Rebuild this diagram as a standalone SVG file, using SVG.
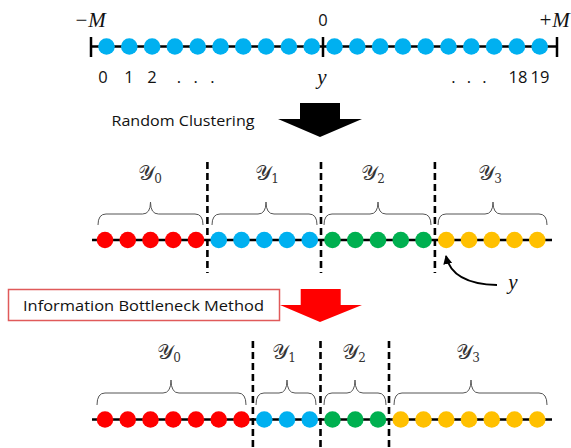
<svg xmlns="http://www.w3.org/2000/svg" width="571" height="448" viewBox="0 0 571 448">
<defs>
<style>
.axis{stroke:#000;stroke-width:2.5;fill:none}
.tick{stroke:#000;stroke-width:2.5}
.div{stroke:#000;stroke-width:2.6;stroke-dasharray:7 4;fill:none}
.brace{stroke:#555;stroke-width:1;fill:none}
.b{fill:#00b0f0}.r{fill:#ff0000}.g{fill:#00b050}.y{fill:#ffc000}
.num{font-family:"Open Sans","Liberation Sans",sans-serif;font-size:16.5px;fill:#111}
.mi{font-family:"Liberation Serif","DejaVu Serif",serif;font-style:italic;font-size:21px;fill:#111}
.cal{font-family:"DejaVu Serif","Noto Sans","Liberation Serif",serif;font-size:21px;fill:#333}
.sub{font-size:12px}
.cap{font-family:"Open Sans","Liberation Sans",sans-serif;font-size:15px;fill:#111}
</style>
<marker id="ah" viewBox="0 0 10 10" refX="9" refY="5" markerWidth="5" markerHeight="5" orient="auto">
<path d="M0,0 L10,5 L0,10 z" fill="#000"/>
</marker>
</defs>
<rect width="571" height="448" fill="#fff"/>

<g id="connectors">
<line class="axis" x1="91" y1="46.5" x2="557" y2="46.5"/>
<line class="tick" x1="91" y1="37" x2="91" y2="57"/>
<line class="tick" x1="323" y1="37" x2="323" y2="57"/>
<line class="tick" x1="557" y1="37" x2="557" y2="57"/>
<line class="axis" x1="92" y1="240" x2="552" y2="240"/>
<line class="axis" x1="92" y1="419.5" x2="552" y2="419.5"/>
<path d="M497,285 Q452,284 446,256" fill="none" stroke="#000" stroke-width="1.8" marker-end="url(#ah)"/>
</g>

<g id="row-top">
<circle class="b" cx="106.5" cy="46.5" r="8.3"/><circle class="b" cx="129.3" cy="46.5" r="8.3"/><circle class="b" cx="152.1" cy="46.5" r="8.3"/><circle class="b" cx="174.9" cy="46.5" r="8.3"/><circle class="b" cx="197.7" cy="46.5" r="8.3"/><circle class="b" cx="220.5" cy="46.5" r="8.3"/><circle class="b" cx="243.3" cy="46.5" r="8.3"/><circle class="b" cx="266.1" cy="46.5" r="8.3"/><circle class="b" cx="288.9" cy="46.5" r="8.3"/><circle class="b" cx="311.7" cy="46.5" r="8.3"/>
<circle class="b" cx="334.5" cy="46.5" r="8.3"/><circle class="b" cx="357.3" cy="46.5" r="8.3"/><circle class="b" cx="380.1" cy="46.5" r="8.3"/><circle class="b" cx="402.9" cy="46.5" r="8.3"/><circle class="b" cx="425.7" cy="46.5" r="8.3"/><circle class="b" cx="448.5" cy="46.5" r="8.3"/><circle class="b" cx="471.3" cy="46.5" r="8.3"/><circle class="b" cx="494.1" cy="46.5" r="8.3"/><circle class="b" cx="516.9" cy="46.5" r="8.3"/><circle class="b" cx="539.7" cy="46.5" r="8.3"/>
<text class="mi" x="90" y="27" text-anchor="middle">−M</text>
<text class="num" x="323" y="26" text-anchor="middle">0</text>
<text class="mi" x="554" y="27" text-anchor="middle">+M</text>
<text class="num" x="103" y="83" text-anchor="middle">0</text>
<text class="num" x="129" y="83" text-anchor="middle">1</text>
<text class="num" x="152" y="83" text-anchor="middle">2</text>
<text class="num" x="179" y="83" text-anchor="middle">.</text>
<text class="num" x="195.7" y="83" text-anchor="middle">.</text>
<text class="num" x="212.3" y="83" text-anchor="middle">.</text>
<text class="mi" x="322" y="84" text-anchor="middle">y</text>
<text class="num" x="453.3" y="83" text-anchor="middle">.</text>
<text class="num" x="469" y="83" text-anchor="middle">.</text>
<text class="num" x="484.3" y="83" text-anchor="middle">.</text>
<text class="num" x="518" y="83" text-anchor="middle">18</text>
<text class="num" x="540" y="83" text-anchor="middle">19</text>
</g>

<g id="arrow-random">
<text class="cap" x="111.5" y="126" textLength="143" lengthAdjust="spacingAndGlyphs">Random Clustering</text>
<path d="M300,103 H340 V119 H362 L320,137 L278,119 H300 Z" fill="#000"/>
</g>

<g id="row-mid">
<line class="div" x1="207.4" y1="162" x2="207.4" y2="273"/>
<line class="div" x1="321" y1="162" x2="321" y2="273"/>
<line class="div" x1="434.9" y1="162" x2="434.9" y2="273"/>
<path class="brace" d="M98,225 Q98,214 106,214 L142.5,214 Q150.5,214 150.5,202 Q150.5,214 158.5,214 L195,214 Q203,214 203,225"/>
<path class="brace" d="M212,225 Q212,214 220,214 L258,214 Q266,214 266,202 Q266,214 274,214 L309,214 Q317,214 317,225"/>
<path class="brace" d="M324,225 Q324,214 332,214 L370,214 Q378,214 378,202 Q378,214 386,214 L423,214 Q431,214 431,225"/>
<path class="brace" d="M438,225 Q438,214 446,214 L485,214 Q493,214 493,202 Q493,214 501,214 L539,214 Q547,214 547,225"/>
<text class="cal" x="150" y="180" text-anchor="middle">𝒴<tspan class="sub" dy="3">0</tspan></text>
<text class="cal" x="267" y="180" text-anchor="middle">𝒴<tspan class="sub" dy="3">1</tspan></text>
<text class="cal" x="373" y="180" text-anchor="middle">𝒴<tspan class="sub" dy="3">2</tspan></text>
<text class="cal" x="490" y="180" text-anchor="middle">𝒴<tspan class="sub" dy="3">3</tspan></text>
<circle class="r" cx="105" cy="240" r="8.3"/><circle class="r" cx="127.75" cy="240" r="8.3"/><circle class="r" cx="150.5" cy="240" r="8.3"/><circle class="r" cx="173.25" cy="240" r="8.3"/><circle class="r" cx="196" cy="240" r="8.3"/>
<circle class="b" cx="218.75" cy="240" r="8.3"/><circle class="b" cx="241.5" cy="240" r="8.3"/><circle class="b" cx="264.25" cy="240" r="8.3"/><circle class="b" cx="287" cy="240" r="8.3"/><circle class="b" cx="309.75" cy="240" r="8.3"/>
<circle class="g" cx="332.5" cy="240" r="8.3"/><circle class="g" cx="355.25" cy="240" r="8.3"/><circle class="g" cx="378" cy="240" r="8.3"/><circle class="g" cx="400.75" cy="240" r="8.3"/><circle class="g" cx="423.5" cy="240" r="8.3"/>
<circle class="y" cx="446.25" cy="240" r="8.3"/><circle class="y" cx="469" cy="240" r="8.3"/><circle class="y" cx="491.75" cy="240" r="8.3"/><circle class="y" cx="514.5" cy="240" r="8.3"/><circle class="y" cx="537.25" cy="240" r="8.3"/>
<text class="mi" x="513" y="289" text-anchor="middle">y</text>
</g>

<g id="arrow-ib">
<rect x="8.5" y="289.5" width="271" height="31" fill="#fff" stroke="#e05a5a" stroke-width="1.5"/>
<text class="cap" x="23" y="311" font-size="16" textLength="241" lengthAdjust="spacingAndGlyphs">Information Bottleneck Method</text>
<path d="M300.7,289 H340.7 V305 H362 L320,322 L280,305 H300.7 Z" fill="#ff0000"/>
</g>

<g id="row-bottom">
<line class="div" x1="252.9" y1="341" x2="252.9" y2="448"/>
<line class="div" x1="320.5" y1="341" x2="320.5" y2="448"/>
<line class="div" x1="389" y1="341" x2="389" y2="448"/>
<path class="brace" d="M97,405 Q97,393 105,393 L163,393 Q171,393 171,380 Q171,393 179,393 L238,393 Q246,393 246,405"/>
<path class="brace" d="M256,405 Q256,393 264,393 L279,393 Q287,393 287,380 Q287,393 295,393 L308,393 Q316,393 316,405"/>
<path class="brace" d="M324,405 Q324,393 332,393 L347,393 Q355,393 355,380 Q355,393 363,393 L378,393 Q386,393 386,405"/>
<path class="brace" d="M394,405 Q394,393 402,393 L463,393 Q471,393 471,380 Q471,393 479,393 L539,393 Q547,393 547,405"/>
<text class="cal" x="169" y="359" text-anchor="middle">𝒴<tspan class="sub" dy="3">0</tspan></text>
<text class="cal" x="284" y="359" text-anchor="middle">𝒴<tspan class="sub" dy="3">1</tspan></text>
<text class="cal" x="354" y="359" text-anchor="middle">𝒴<tspan class="sub" dy="3">2</tspan></text>
<text class="cal" x="468" y="359" text-anchor="middle">𝒴<tspan class="sub" dy="3">3</tspan></text>
<circle class="r" cx="105" cy="419.5" r="8.3"/><circle class="r" cx="127.75" cy="419.5" r="8.3"/><circle class="r" cx="150.5" cy="419.5" r="8.3"/><circle class="r" cx="173.25" cy="419.5" r="8.3"/><circle class="r" cx="196" cy="419.5" r="8.3"/><circle class="r" cx="218.75" cy="419.5" r="8.3"/><circle class="r" cx="241.5" cy="419.5" r="8.3"/>
<circle class="b" cx="264.25" cy="419.5" r="8.3"/><circle class="b" cx="287" cy="419.5" r="8.3"/><circle class="b" cx="309.75" cy="419.5" r="8.3"/>
<circle class="g" cx="332.5" cy="419.5" r="8.3"/><circle class="g" cx="355.25" cy="419.5" r="8.3"/><circle class="g" cx="378" cy="419.5" r="8.3"/>
<circle class="y" cx="400.75" cy="419.5" r="8.3"/><circle class="y" cx="423.5" cy="419.5" r="8.3"/><circle class="y" cx="446.25" cy="419.5" r="8.3"/><circle class="y" cx="469" cy="419.5" r="8.3"/><circle class="y" cx="491.75" cy="419.5" r="8.3"/><circle class="y" cx="514.5" cy="419.5" r="8.3"/><circle class="y" cx="537.25" cy="419.5" r="8.3"/>
</g>
</svg>
